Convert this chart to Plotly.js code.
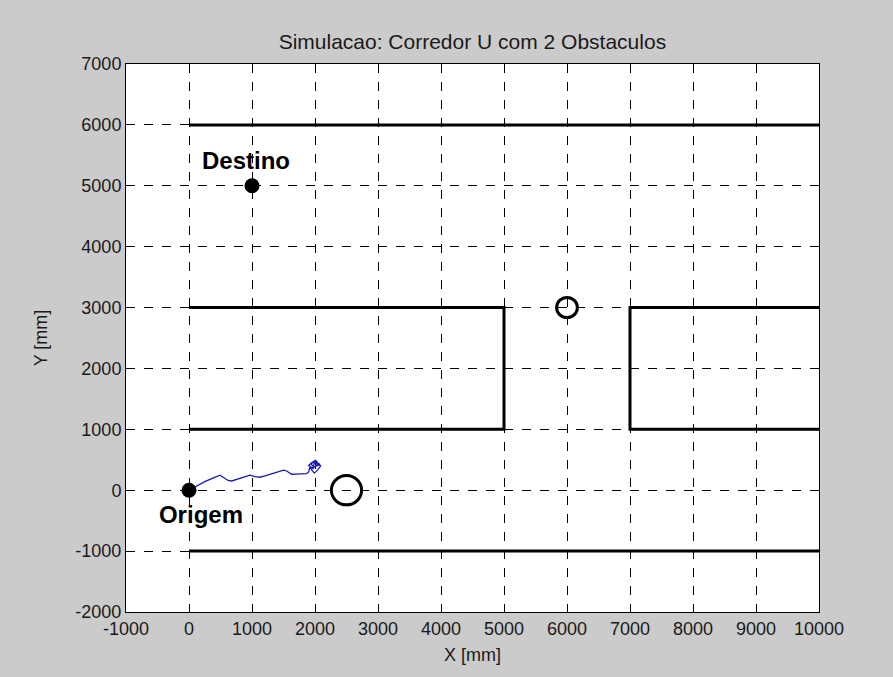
<!DOCTYPE html>
<html>
<head>
<meta charset="utf-8">
<script src="https://cdn.plot.ly/plotly-3.0.1.min.js"></script>
<style>html,body{margin:0;padding:0;background:#cbcbcb;}#chart{width:893px;height:677px;}</style>
</head>
<body>
<div id="chart"></div>
<script>
// Walls of the U corridor (segments separated by null)
var wallX = [0, 10000, null, 0, 5000, 5000, 0, null, 10000, 7000, 7000, 10000, null, 0, 10000];
var wallY = [6000, 6000, null, 3000, 3000, 1000, 1000, null, 3000, 3000, 1000, 1000, null, -1000, -1000];

// Obstacles
var obsX = [2500, 6000];
var obsY = [0, 3000];
var obsR = [240, 165];

// Robot trajectory
var trajX = [0, 120, 250, 380, 492, 560, 620, 678, 760, 860, 968, 1050, 1127, 1220, 1330, 1444, 1500, 1550, 1590, 1630, 1700, 1790, 1868, 1900, 1920, 1950, 1990, 2040, 2090, 1990, 1900, 1960, 2060, 2010, 1930, 1980, 2080, 2000, 1960, 2030];
var trajY = [0, 70, 140, 200, 246, 200, 160, 152, 180, 220, 246, 225, 213, 240, 275, 300, 330, 316, 290, 262, 265, 275, 273, 300, 382, 330, 280, 330, 400, 470, 410, 360, 430, 490, 440, 380, 420, 480, 350, 420];

// Points
var startX = [0], startY = [0];
var goalX = [1000], goalY = [5000];
var labelText = ['Destino', 'Origem'];
var labelX = [905, 190];
var labelY = [5377, -443];

var xTicks = [-1000, 0, 1000, 2000, 3000, 4000, 5000, 6000, 7000, 8000, 9000, 10000];
var yTicks = [-2000, -1000, 0, 1000, 2000, 3000, 4000, 5000, 6000, 7000];

var FONT = 'Liberation Sans, Arial, sans-serif';

var traces = [
  {x: wallX, y: wallY, mode: 'lines', line: {color: '#000', width: 3}, hoverinfo: 'skip', connectgaps: false},
  {x: trajX, y: trajY, mode: 'lines', line: {color: '#1a1ab4', width: 1.3}},
  {x: startX.concat(goalX), y: startY.concat(goalY), mode: 'markers', marker: {color: '#000', size: 15}},
  {x: labelX, y: labelY, mode: 'text', text: labelText, textfont: {family: FONT, size: 24, color: '#000', weight: 'bold'}, textposition: 'middle center'}
];

var shapes = obsX.map(function (cx, i) {
  return {type: 'circle', xref: 'x', yref: 'y', x0: cx - obsR[i], x1: cx + obsR[i], y0: obsY[i] - obsR[i], y1: obsY[i] + obsR[i], line: {color: '#000', width: 3}, layer: 'above'};
});

var axisCommon = {
  showgrid: true, gridcolor: '#000', griddash: 'dash', gridwidth: 1,
  zeroline: false, showline: true, linecolor: '#000', linewidth: 1, mirror: 'ticks',
  ticks: 'inside', ticklen: 5, tickcolor: '#000',
  tickfont: {family: FONT, size: 18, color: '#1a1a1a'}
};

var layout = {
  width: 893, height: 677,
  paper_bgcolor: '#cbcbcb', plot_bgcolor: '#ffffff',
  margin: {l: 126, r: 74, t: 64, b: 65},
  showlegend: false,
  shapes: shapes,
  title: {text: 'Simulacao: Corredor U com 2 Obstaculos', x: 0.529, xanchor: 'center', y: 0.939, yanchor: 'middle', font: {family: FONT, size: 21, color: '#1a1a1a'}},
  xaxis: Object.assign({}, axisCommon, {range: [-1000, 10000], tickvals: xTicks, ticktext: xTicks.map(String),
    title: {text: 'X [mm]', standoff: 10, font: {family: FONT, size: 18, color: '#1a1a1a'}}}),
  yaxis: Object.assign({}, axisCommon, {range: [-2000, 7000], tickvals: yTicks, ticktext: yTicks.map(String),
    title: {text: 'Y [mm]', standoff: 23, font: {family: FONT, size: 18, color: '#1a1a1a'}}})
};

Plotly.newPlot('chart', traces, layout, {displayModeBar: false, staticPlot: true});
</script>
</body>
</html>
